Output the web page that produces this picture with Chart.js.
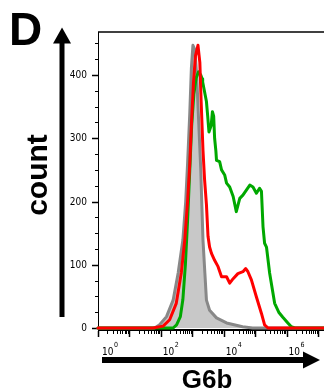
<!DOCTYPE html>
<html>
<head>
<meta charset="utf-8">
<script src="https://cdn.jsdelivr.net/npm/chart.js@4.4.1/dist/chart.umd.min.js"></script>
<style>
  html, body { margin: 0; padding: 0; background: #fff; }
  #wrap { position: relative; width: 324px; height: 392px; }
</style>
</head>
<body>
<div id="wrap"><canvas id="chart" width="324" height="392"></canvas></div>
<script>
// x values are log10 of G6b intensity, y values are event counts
const grayLog = [0, 1.80, 1.96, 2.18, 2.39, 2.55, 2.70, 2.79, 2.85, 2.92, 2.97, 3.02, 3.08, 3.14, 3.20, 3.27, 3.30, 3.34, 3.40, 3.45, 3.55, 3.77, 4.09, 4.60, 4.92, 7.19];
const grayCount = [0, 0, 5, 18, 44, 87, 139, 200, 260, 340, 410, 447, 440, 400, 330, 250, 200, 139, 87, 44, 28, 16, 8, 2, 0, 0];

const redLog = [0, 1.75, 2.07, 2.28, 2.49, 2.65, 2.76, 2.85, 2.92, 2.98, 3.04, 3.10, 3.18, 3.24, 3.28, 3.34, 3.39, 3.45, 3.50, 3.55, 3.61, 3.71, 3.82, 3.93, 4.09, 4.19, 4.30, 4.45, 4.61, 4.70, 4.77, 4.88, 5.04, 5.20, 5.30, 5.41, 7.19];
const redCount = [0, 0, 3, 13, 39, 87, 139, 200, 260, 330, 390, 430, 447, 420, 360, 281, 235, 195, 145, 128, 118, 107, 97, 81, 81, 71, 78, 86, 89, 94, 89, 76, 49, 23, 5, 0, 0];

const greenLog = [0, 2.39, 2.50, 2.62, 2.70, 2.78, 2.85, 2.92, 2.98, 3.05, 3.12, 3.20, 3.27, 3.31, 3.33, 3.45, 3.49, 3.53, 3.60, 3.64, 3.68, 3.71, 3.75, 3.77, 3.87, 3.93, 4.03, 4.09, 4.19, 4.30, 4.40, 4.51, 4.61, 4.72, 4.83, 4.93, 5.04, 5.14, 5.20, 5.25, 5.30, 5.36, 5.46, 5.62, 5.75, 5.88, 6.04, 6.15, 6.26, 7.19];
const greenCount = [0, 0, 5, 18, 45, 100, 170, 250, 320, 370, 395, 405, 400, 394, 389, 358, 335, 310, 320, 342, 335, 300, 280, 265, 263, 250, 242, 229, 223, 208, 184, 205, 210, 218, 226, 223, 213, 221, 216, 160, 134, 128, 87, 39, 25, 17, 8, 2, 0, 0];

const xDecades = [0, 1, 2, 3, 4, 5, 6, 7];
const xLabelDecades = [0, 2, 4, 6];
const yLabels = [0, 100, 200, 300, 400];
const yMinorStep = 25;

const toPoints = (xs, ys) => xs.map((x, i) => ({ x: x, y: ys[i] }));

const tickFont = "'Liberation Sans Narrow', 'DejaVu Sans Condensed', sans-serif";
const boldFont = "'Liberation Sans', Arial, sans-serif";

// axes, ticks and labels drawn by hand (ticks have two lengths)
const axesPlugin = {
    id: 'facsAxes',
    beforeDatasetsDraw(chart) {
        const ctx = chart.ctx;
        const area = chart.chartArea;
        const xs = chart.scales.x;
        const ys = chart.scales.y;
        ctx.save();
        ctx.strokeStyle = '#000';

        // frame: top + left + bottom
        ctx.lineWidth = 1.5;
        ctx.beginPath();
        ctx.moveTo(area.left, area.top);
        ctx.lineTo(area.right, area.top);
        ctx.stroke();
        ctx.lineWidth = 1;
        ctx.beginPath();
        ctx.moveTo(area.left + 0.5, area.top);
        ctx.lineTo(area.left + 0.5, area.bottom + 3);
        ctx.stroke();
        ctx.lineWidth = 2;
        ctx.beginPath();
        ctx.moveTo(area.left, area.bottom + 2);
        ctx.lineTo(area.right, area.bottom + 2);
        ctx.stroke();

        // y ticks
        for (let v = 0; v <= ys.max; v += yMinorStep) {
            const py = Math.round(ys.getPixelForValue(v)) + 0.5;
            const major = yLabels.includes(v);
            ctx.lineWidth = major ? 1.5 : 1;
            ctx.beginPath();
            ctx.moveTo(area.left - (major ? 6 : 3), py);
            ctx.lineTo(area.left, py);
            ctx.stroke();
        }
        ctx.fillStyle = '#000';
        ctx.font = '10px ' + tickFont;
        ctx.textAlign = 'right';
        ctx.textBaseline = 'middle';
        yLabels.forEach(v => {
            ctx.fillText(String(v), area.left - 11, ys.getPixelForValue(v) + 0.5);
        });

        // x ticks
        const axisY = area.bottom + 3;
        xDecades.forEach(d => {
            const px = Math.round(xs.getPixelForValue(d)) + 0.5;
            ctx.lineWidth = 1.5;
            ctx.beginPath();
            ctx.moveTo(px, axisY);
            ctx.lineTo(px, axisY + 6);
            ctx.stroke();
            for (let k = 2; k <= 9; k++) {
                const lv = d + Math.log10(k);
                if (lv > xs.max) break;
                const mx = Math.round(xs.getPixelForValue(lv)) + 0.5;
                ctx.lineWidth = 1;
                ctx.beginPath();
                ctx.moveTo(mx, axisY);
                ctx.lineTo(mx, axisY + 3);
                ctx.stroke();
            }
        });
        ctx.textAlign = 'left';
        ctx.textBaseline = 'alphabetic';
        xLabelDecades.forEach(d => {
            const px = xs.getPixelForValue(d) + (d === 0 ? 4 : 2);
            ctx.font = '10px ' + tickFont;
            ctx.fillText('10', px, 355);
            const w = ctx.measureText('10').width;
            ctx.font = '7px ' + tickFont;
            ctx.fillText(String(d), px + w + 0.5, 347);
        });
        ctx.restore();
    },
    afterDraw(chart) {
        const ctx = chart.ctx;
        ctx.save();
        ctx.fillStyle = '#000';

        // vertical arrow
        ctx.fillRect(59.5, 42, 5, 275);
        ctx.beginPath();
        ctx.moveTo(62, 27.5);
        ctx.lineTo(71, 43.5);
        ctx.lineTo(53, 43.5);
        ctx.closePath();
        ctx.fill();

        // horizontal arrow
        ctx.fillRect(102, 357, 203, 6);
        ctx.beginPath();
        ctx.moveTo(320, 360);
        ctx.lineTo(303, 351.5);
        ctx.lineTo(303, 368.5);
        ctx.closePath();
        ctx.fill();

        // panel letter and axis titles
        ctx.font = 'bold 46px ' + boldFont;
        ctx.textAlign = 'left';
        ctx.textBaseline = 'alphabetic';
        ctx.fillText('D', 9, 45);

        ctx.font = 'bold 26px ' + boldFont;
        ctx.textAlign = 'center';
        ctx.fillText('G6b', 207, 388);

        ctx.translate(46.5, 175);
        ctx.rotate(-Math.PI / 2);
        ctx.font = 'bold 30px ' + boldFont;
        ctx.fillText('count', 0, 0);
        ctx.restore();
    }
};

new Chart(document.getElementById('chart'), {
    type: 'line',
    data: {
        datasets: [
            {
                label: 'red',
                data: toPoints(redLog, redCount),
                borderColor: '#ff0000',
                borderWidth: 3,
                fill: false
            },
            {
                label: 'green',
                data: toPoints(greenLog, greenCount),
                borderColor: '#00a800',
                borderWidth: 3,
                fill: false
            },
            {
                label: 'control',
                data: toPoints(grayLog, grayCount),
                borderColor: '#888888',
                backgroundColor: '#c8c8c8',
                borderWidth: 3,
                fill: 'origin'
            }
        ]
    },
    options: {
        responsive: false,
        animation: false,
        devicePixelRatio: 1,
        layout: { padding: { left: 98, right: 0, top: 32, bottom: 64 } },
        elements: {
            point: { radius: 0 },
            line: { tension: 0, borderJoinStyle: 'round', borderCapStyle: 'round' }
        },
        datasets: { line: { clip: false } },
        scales: {
            x: { type: 'linear', min: 0, max: 7.19, display: false },
            y: { type: 'linear', min: 0, max: 468, display: false }
        },
        plugins: {
            legend: { display: false },
            tooltip: { enabled: false }
        }
    },
    plugins: [axesPlugin]
});
</script>
</body>
</html>
